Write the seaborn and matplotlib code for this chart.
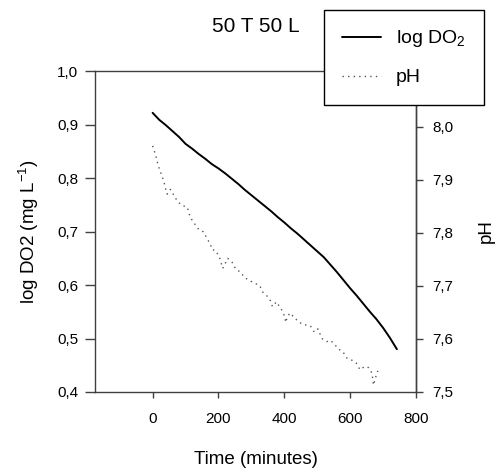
import matplotlib
matplotlib.use('Agg')
import matplotlib.pyplot as plt
import matplotlib.ticker as mticker
import pandas as pd
import seaborn as sns

# log DO2 (mg L-1) against time (minutes)
do2_time = [0, 20, 40, 60, 80, 100, 120, 140, 160, 180, 200, 220, 240, 260, 280, 300,
            320, 340, 360, 380, 400, 420, 440, 460, 480, 500, 520, 540, 560, 580, 600,
            620, 640, 660, 680, 700, 720, 742]
do2_log = [0.922, 0.909, 0.899, 0.888, 0.877, 0.864, 0.855, 0.845, 0.836, 0.826, 0.818,
           0.809, 0.799, 0.789, 0.778, 0.768, 0.758, 0.748, 0.738, 0.727, 0.717, 0.706,
           0.696, 0.685, 0.674, 0.663, 0.652, 0.638, 0.624, 0.609, 0.594, 0.580, 0.565,
           0.550, 0.536, 0.520, 0.502, 0.480]

# pH against time (minutes)
ph_time = [0, 7, 12, 16, 22, 29, 35, 39, 44, 54, 76, 89, 106, 109, 118, 130, 142, 154,
           165, 175, 181, 191, 203, 213, 228, 242, 252, 267, 279, 295, 310, 325, 335, 349,
           358, 364, 376, 394, 402, 404, 409, 417, 442, 457, 470, 480, 491, 502, 508, 516,
           529, 541, 554, 564, 578, 590, 605, 618, 630, 644, 656, 666, 671, 677, 684]
ph_val = [7.964, 7.951, 7.940, 7.929, 7.918, 7.906, 7.895, 7.884, 7.873, 7.882, 7.859,
          7.852, 7.848, 7.838, 7.826, 7.815, 7.805, 7.802, 7.790, 7.779, 7.768, 7.767,
          7.754, 7.733, 7.752, 7.744, 7.732, 7.726, 7.716, 7.710, 7.705, 7.701, 7.688,
          7.680, 7.672, 7.661, 7.670, 7.653, 7.641, 7.631, 7.641, 7.649, 7.633, 7.627,
          7.626, 7.624, 7.613, 7.619, 7.610, 7.600, 7.595, 7.597, 7.589, 7.581, 7.576,
          7.564, 7.560, 7.555, 7.542, 7.548, 7.546, 7.536, 7.513, 7.527, 7.540]

df_do2 = pd.DataFrame({'time': do2_time, 'value': do2_log})
df_ph = pd.DataFrame({'time': ph_time, 'value': ph_val})

sns.set_style('ticks')
plt.rcParams['font.family'] = ['Liberation Sans', 'DejaVu Sans']
plt.rcParams['mathtext.fontset'] = 'custom'
plt.rcParams['mathtext.rm'] = 'Liberation Sans'
plt.rcParams['text.color'] = 'black'
plt.rcParams['axes.labelcolor'] = 'black'
plt.rcParams['xtick.color'] = 'black'
plt.rcParams['ytick.color'] = 'black'

spine_col = '#404040'

fig = plt.figure(figsize=(5, 4.74), dpi=100)
ax = fig.add_axes([0.19, 0.173, 0.642, 0.677])
ax2 = ax.twinx()

sns.lineplot(data=df_do2, x='time', y='value', ax=ax, color='black', linewidth=1.4,
             label='log DO$_2$', legend=False)
sns.lineplot(data=df_ph, x='time', y='value', ax=ax2, color='#555555', linewidth=1.0,
             linestyle=(0, (1, 3)), label='pH', legend=False)

ax.set_xlim(-175, 800)
ax.set_ylim(0.4, 1.0)
ax2.set_ylim(7.5, 8.105)
ax.set_xticks([0, 200, 400, 600, 800])
ax.set_yticks([0.4, 0.5, 0.6, 0.7, 0.8, 0.9, 1.0])
ax2.set_yticks([7.5, 7.6, 7.7, 7.8, 7.9, 8.0])

comma = mticker.FuncFormatter(lambda v, p: f'{v:.1f}'.replace('.', ','))
ax.yaxis.set_major_formatter(comma)
ax2.yaxis.set_major_formatter(comma)

for a in (ax, ax2):
    for s in a.spines.values():
        s.set_color(spine_col)
        s.set_linewidth(1.0)
ax2.spines['left'].set_visible(False)
ax2.spines['bottom'].set_visible(False)
ax2.spines['top'].set_visible(False)

ax.tick_params(axis='y', direction='out', length=7, width=1, color=spine_col,
               labelsize=11, pad=5)
ax.tick_params(axis='x', direction='out', length=4.5, width=1, color=spine_col,
               labelsize=11, pad=10)
ax2.tick_params(axis='y', direction='out', length=5, width=1, color=spine_col,
                labelsize=11, pad=7)

ax.set_xlabel('Time (minutes)', fontsize=13.5, labelpad=18)
ax.set_ylabel('log DO2 (mg L$^{\\mathregular{-1}}$)', fontsize=13.5, labelpad=12)
ax2.set_ylabel('pH', fontsize=13.5, labelpad=17)
ax.set_title('50 T 50 L', fontsize=15, pad=28)

h1, l1 = ax.get_legend_handles_labels()
h2, l2 = ax2.get_legend_handles_labels()
leg = fig.legend(h1 + h2, l1 + l2, loc='upper left', bbox_to_anchor=(0.648, 0.979),
                 frameon=True, fancybox=False, edgecolor='black', framealpha=1,
                 fontsize=14, borderpad=0.95, labelspacing=1.0, handlelength=2.0,
                 handletextpad=0.75, borderaxespad=0)
leg.get_frame().set_linewidth(1.0)

fig.savefig('out.png', dpi=100)
